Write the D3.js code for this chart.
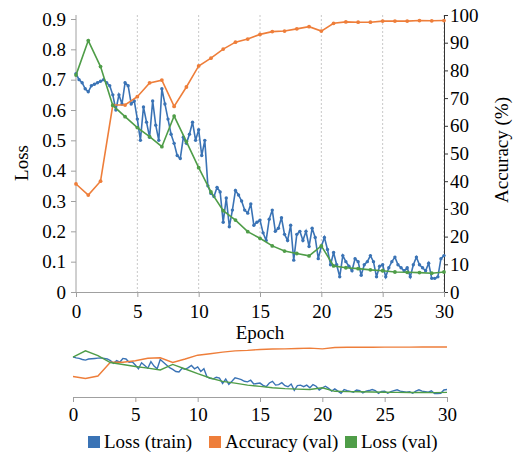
<!DOCTYPE html>
<html><head><meta charset="utf-8">
<script src="https://cdn.jsdelivr.net/npm/d3@7"></script>
<style>
body{margin:0;background:#fff;}
</style></head>
<body>
<svg id="c" width="515" height="454"></svg>
<script>
// ---- data ----
const epochs = d3.range(0, 31);
const xTicks = [0, 5, 10, 15, 20, 25, 30];
const lossTicks = [0, 0.1, 0.2, 0.3, 0.4, 0.5, 0.6, 0.7, 0.8, 0.9];
const accTicks = [0, 10, 20, 30, 40, 50, 60, 70, 80, 90, 100];
const accVal = [39, 35, 40, 67.5, 67.5, 70.5, 75.5, 76.5, 67, 74, 81.6, 84.4, 87.7, 90.2, 91.3, 93, 94, 94.2, 95, 95.8, 94.2, 97, 97.5, 97.4, 97.4, 97.8, 97.8, 97.8, 98, 97.9, 98];
const lossVal = [0.715, 0.829, 0.743, 0.615, 0.578, 0.542, 0.512, 0.479, 0.58, 0.496, 0.41, 0.33, 0.268, 0.237, 0.199, 0.177, 0.152, 0.135, 0.127, 0.119, 0.152, 0.086, 0.08, 0.077, 0.073, 0.07, 0.066, 0.065, 0.064, 0.062, 0.066];
// training loss logged every quarter epoch
const trainStep = 0.25;
const lossTrain = [0.72, 0.70, 0.69, 0.67, 0.66, 0.68, 0.685, 0.69, 0.695, 0.70, 0.69, 0.68, 0.65, 0.60, 0.65, 0.62,
  0.69, 0.68, 0.62, 0.63, 0.57, 0.50, 0.61, 0.56, 0.51, 0.63, 0.55, 0.50, 0.67, 0.62, 0.57, 0.52,
  0.49, 0.45, 0.44, 0.51, 0.49, 0.52, 0.56, 0.50, 0.535, 0.45, 0.50, 0.35, 0.325, 0.315, 0.345, 0.33,
  0.23, 0.31, 0.215, 0.27, 0.335, 0.32, 0.30, 0.27, 0.26, 0.29, 0.22, 0.23, 0.237, 0.195, 0.17, 0.24,
  0.27, 0.20, 0.21, 0.245, 0.19, 0.17, 0.22, 0.105, 0.19, 0.20, 0.17, 0.20, 0.15, 0.21, 0.18, 0.11,
  0.15, 0.18, 0.14, 0.09, 0.13, 0.09, 0.05, 0.12, 0.10, 0.085, 0.07, 0.11, 0.10, 0.055, 0.09, 0.10,
  0.12, 0.10, 0.05, 0.085, 0.09, 0.05, 0.08, 0.10, 0.115, 0.09, 0.08, 0.07, 0.08, 0.05, 0.09, 0.115,
  0.09, 0.08, 0.07, 0.095, 0.045, 0.045, 0.05, 0.11, 0.12];
const seriesNames = ["Loss (train)", "Accuracy (val)", "Loss (val)"];
const colors = ["#3a73b5", "#ee7e3a", "#4f9d48"];

// ---- chart ----
const FONT = "'Liberation Serif', 'DejaVu Serif', serif";
const svg = d3.select("#c");
const FS = 19;
const x = d3.scaleLinear([0, 30], [76, 444]);
const yL = d3.scaleLinear([0, 0.9], [292, 19]);
const yA = d3.scaleLinear([0, 100], [292, 15]);

const train = lossTrain.map((v, i) => [i * trainStep, v]);
const acc = accVal.map((v, i) => [epochs[i], v]);
const lval = lossVal.map((v, i) => [epochs[i], v]);

// vertical dotted gridlines
svg.append("g").selectAll("line").data(xTicks.slice(1)).join("line")
  .attr("x1", d => x(d)).attr("x2", d => x(d)).attr("y1", 15).attr("y2", 292)
  .attr("stroke", "#c8c8c8").attr("stroke-width", 1).attr("stroke-dasharray", "2,2");

function styleAxis(g, col) {
  g.attr("font-family", null).attr("font-size", null);
  g.selectAll("path.domain").attr("stroke", col);
  g.selectAll(".tick line").attr("stroke", col);
  g.selectAll("text").attr("fill", "#000");
}

// left axis
const gl = svg.append("g").attr("transform", "translate(76,0)")
  .call(d3.axisLeft(yL).tickValues(lossTicks).tickFormat(d => d === 0 ? "0" : d3.format(".1f")(d)).tickSize(5).tickPadding(5).tickSizeOuter(0));
styleAxis(gl, "#a0a0a0");
gl.select("path.domain").attr("d", "M0,292V15");

// right axis
const gr = svg.append("g").attr("transform", "translate(444,0)")
  .call(d3.axisRight(yA).tickValues(accTicks).tickSize(4).tickPadding(2).tickSizeOuter(0));
styleAxis(gr, "#333");

// bottom axis
const gb = svg.append("g").attr("transform", "translate(0,292)")
  .call(d3.axisBottom(x).tickValues(xTicks).tickSize(5).tickPadding(8).tickSizeOuter(0));
styleAxis(gb, "#a0a0a0");

svg.append("text").attr("x", 260).attr("y", 339).attr("text-anchor", "middle").text("Epoch");
svg.append("text").attr("transform", "translate(28,163) rotate(-90)").attr("text-anchor", "middle").text("Loss");
svg.append("text").attr("transform", "translate(508,150) rotate(-90)").attr("text-anchor", "middle").text("Accuracy (%)");

function drawSeries(data, ys, col, r, w) {
  const line = d3.line().x(d => x(d[0])).y(d => ys(d[1]));
  svg.append("path").datum(data).attr("d", line).attr("fill", "none").attr("stroke", col).attr("stroke-width", w);
  svg.append("g").selectAll("circle").data(data).join("circle")
    .attr("cx", d => x(d[0])).attr("cy", d => ys(d[1])).attr("r", r).attr("fill", col);
}
drawSeries(train, yL, colors[0], 1.7, 1.6);
drawSeries(acc, yA, colors[1], 1.9, 1.6);
drawSeries(lval, yL, colors[2], 1.9, 1.6);

// ---- overview ----
const x2 = d3.scaleLinear([0, 30], [73, 447]);
const yL2 = d3.scaleLinear([0, 0.9], [396, 347]);
const yA2 = d3.scaleLinear([0, 100], [396, 346]);
const ov = [[train, yL2, colors[0]], [acc, yA2, colors[1]], [lval, yL2, colors[2]]];
ov.forEach(([data, ys, col]) => {
  svg.append("path").datum(data).attr("d", d3.line().x(d => x2(d[0])).y(d => ys(d[1])))
    .attr("fill", "none").attr("stroke", col).attr("stroke-width", 1.4);
});
const gb2 = svg.append("g").attr("transform", "translate(0,397)")
  .call(d3.axisBottom(x2).tickValues(xTicks).tickSize(5).tickPadding(6).tickSizeOuter(0));
styleAxis(gb2, "#a0a0a0");

// ---- legend ----
const legX = [88, 209, 345];
const lg = svg.append("g");
seriesNames.forEach((n, i) => {
  lg.append("rect").attr("x", legX[i]).attr("y", 436).attr("width", 12).attr("height", 12).attr("fill", colors[i]);
  lg.append("text").attr("x", legX[i] + 16).attr("y", 448).text(n);
});

svg.style("font-family", FONT).style("font-size", FS + "px");
svg.selectAll("text").style("font-family", FONT).style("font-size", FS + "px");
</script>
</body></html>
